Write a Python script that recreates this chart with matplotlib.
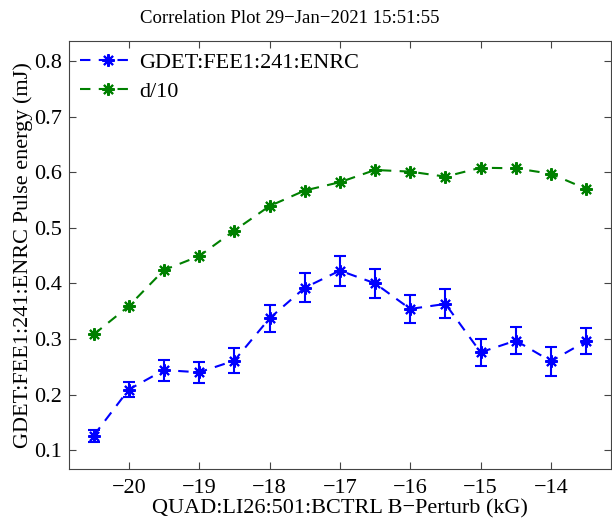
import numpy as np
import matplotlib
matplotlib.use('Agg')
import matplotlib.pyplot as plt

plt.rcParams['font.family'] = ['Liberation Serif', 'DejaVu Serif']

# dados
quad_kg = [-20.5, -20, -19.5, -19, -18.5, -18, -17.5, -17, -16.5, -16, -15.5, -15, -14.5, -14, -13.5]
gdet = [0.126, 0.209, 0.244, 0.240, 0.261, 0.337, 0.392, 0.423, 0.400, 0.354, 0.363, 0.276, 0.297, 0.260, 0.296]
gdet_err = [0.011, 0.014, 0.019, 0.019, 0.022, 0.024, 0.026, 0.027, 0.026, 0.025, 0.026, 0.024, 0.024, 0.026, 0.023]
d10 = [0.308, 0.359, 0.424, 0.449, 0.495, 0.539, 0.567, 0.582, 0.604, 0.601, 0.592, 0.608, 0.607, 0.597, 0.570]

y_ticks = [0.1, 0.2, 0.3, 0.4, 0.5, 0.6, 0.7, 0.8]
x_ticks = [-20, -19, -18, -17, -16, -15, -14]

fig = plt.figure(figsize=(6.12, 5.19), dpi=100)
ax = fig.add_axes([0.1127, 0.0963, 0.8853, 0.8247])

asterisco = (8, 2, 0)
estilo = dict(linestyle='--', linewidth=1.5, dashes=(5, 4), marker=asterisco,
              markersize=9, markeredgewidth=1.5)

# barras de erro sem legenda
ax.errorbar(quad_kg, gdet, yerr=gdet_err, color='#0000ff', fmt='none',
            capsize=4.5, elinewidth=1.5, capthick=1.5)
ax.plot(quad_kg, gdet, color='#0000ff', label='GDET:FEE1:241:ENRC', **estilo)
ax.plot(quad_kg, d10, color='#008000', label='d/10', **estilo)

ax.set_xlim(-20.85, -13.15)
ax.set_ylim(0.066, 0.836)
ax.set_xticks(x_ticks)
ax.set_xticklabels([str(v).replace('-', '\u2212') for v in x_ticks])
ax.set_yticks(y_ticks)
ax.set_yticklabels(['%.1f' % v for v in y_ticks])
ax.tick_params(direction='in', top=True, right=True, length=5, width=0.8,
               labelsize=16, color='#444444', pad=5)
ax.tick_params(axis='x', pad=7)
for s in ax.spines.values():
    s.set_linewidth(0.8)
    s.set_color('#444444')

fig.text(0.474, 0.965, 'Correlation Plot 29\u2212Jan\u22122021 15:51:55', fontsize=13.5,
         ha='center', va='center')
ax.set_xlabel('QUAD:LI26:501:BCTRL B\u2212Perturb (kG)', fontsize=16, labelpad=1)
ax.set_ylabel('GDET:FEE1:241:ENRC Pulse energy (mJ)', fontsize=16, labelpad=1)

leg = ax.legend(loc='upper left', frameon=False, fontsize=16, handlelength=2.5,
                handletextpad=0.15, borderaxespad=0.25, labelspacing=0.4,
                borderpad=0.25)

fig.savefig('out.png', dpi=100)
